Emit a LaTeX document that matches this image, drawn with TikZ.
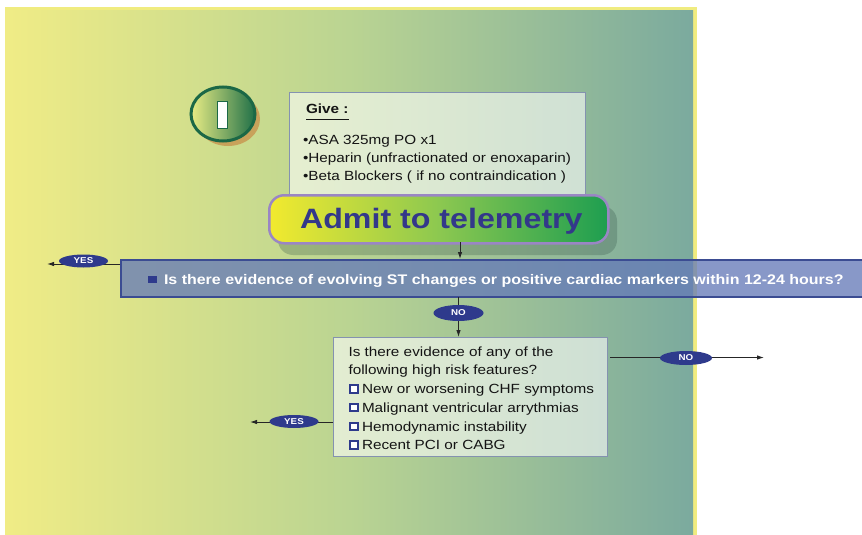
\documentclass[tikz,border=0pt]{standalone}
\usepackage{fontspec}
\setmainfont[FakeStretch=1.15]{Liberation Sans}
\usetikzlibrary{shapes.geometric,arrows.meta}
\definecolor{frameY}{RGB}{240,236,128}
\definecolor{bgL}{RGB}{240,236,134}
\definecolor{bgM}{RGB}{186,212,146}
\definecolor{bgR}{RGB}{123,170,158}
\definecolor{badgeB}{RGB}{27,104,70}
\definecolor{badgeL}{RGB}{232,236,132}
\definecolor{badgeR}{RGB}{32,112,72}
\definecolor{tanc}{RGB}{200,162,90}
\definecolor{boxB}{RGB}{132,146,176}
\definecolor{admL}{RGB}{242,234,46}
\definecolor{admM}{RGB}{140,200,80}
\definecolor{admR}{RGB}{30,158,80}
\definecolor{admB}{RGB}{154,134,196}
\definecolor{admT}{RGB}{51,56,138}
\definecolor{shadowc}{RGB}{50,80,70}
\definecolor{qblue}{RGB}{101,122,184}
\definecolor{qborder}{RGB}{59,76,146}
\definecolor{navy}{RGB}{46,58,140}
\definecolor{ink}{RGB}{20,20,20}
\begin{document}
\begin{tikzpicture}[x=1pt,y=-1pt,
  txt/.style={anchor=base west, inner sep=0pt, outer sep=0pt, text=ink},
  lbl/.style={ellipse, fill=navy, inner sep=0pt, text=white,
    font=\bfseries\fontsize{8.5}{8.5}\selectfont},
  arr/.style={-{Latex[length=7pt,width=4.5pt]}, line width=0.9pt, draw=black!85},
  lightbox/.style={draw=boxB, line width=1.2pt, fill=white, fill opacity=0.58,
    anchor=north west, inner sep=0pt},
  hollowsq/.style={draw=navy, line width=1.9pt, fill=white, inner sep=0pt,
    minimum width=8pt, minimum height=7.5pt, anchor=south west},
  gfont/.style={font=\fontsize{13.3}{16}\selectfont}
]
\clip (0,0) rectangle (862,535);
\fill[white] (0,0) rectangle (862,535);
\fill[frameY] (5,7) rectangle (697,535);
\shade[left color=bgL, right color=bgR, middle color=bgM] (5,11) rectangle (693,535);

% badge
\node (badgeSh) [ellipse, fill=tanc, minimum width=64, minimum height=54, inner sep=0pt] at (228,119) {};
\node (badge) [ellipse, draw=badgeB, line width=3pt, left color=badgeL, right color=badgeR,
  minimum width=64, minimum height=54, inner sep=0pt] at (223,114) {};
\node (badgeI) [draw=badgeB, line width=0.8pt, fill=white, minimum width=9.5, minimum height=27,
  inner sep=0pt] at (222.5,114.5) {};

% Give box
\node (give) [lightbox, minimum width=296, minimum height=110] at (289,92) {};
\node (giveT) [txt, font=\bfseries\fontsize{13.3}{16}\selectfont] at (306,113) {Give :};
\draw[line width=0.9pt, ink] ([yshift=-6pt]giveT.base west) -- ([yshift=-6pt]giveT.base east);
\node (g1) [txt, gfont] at (303,144) {•ASA 325mg PO x1};
\node (g2) [txt, gfont] at (303,162) {•Heparin (unfractionated or enoxaparin)};
\node (g3) [txt, gfont] at (303,180) {•Beta Blockers ( if no contraindication )};

% Admit box
\fill[shadowc, opacity=0.28, rounded corners=15pt] (278,206) rectangle (617,255);
\node (admit) [draw=admB, line width=2.5pt, rounded corners=15pt, left color=admL,
  right color=admR, middle color=admM, minimum width=339, minimum height=48,
  anchor=north west, inner sep=0pt] at (268,194) {};
\node (admitT) [txt, text=admT, font=\bfseries\fontsize{28}{28}\selectfont] at (300,228) {Admit to telemetry};

% Question box
\node (q) [fill=qblue, fill opacity=0.77, draw=qborder, draw opacity=1, line width=2pt,
  minimum width=760, minimum height=37, anchor=north west, inner sep=0pt] at (120,259) {};
\node (qsq) [fill=navy, minimum width=9, minimum height=7.5, inner sep=0pt] at (152,279.5) {};
\node (qT) [txt, text=white, font=\bfseries\fontsize{13.9}{16}\selectfont] at (164,284.3)
  {Is there evidence of evolving ST changes or positive cardiac markers within 12-24 hours?};

% second box
\node (b2) [lightbox, minimum width=274, minimum height=119] at (333,337) {};
\node (b2a) [txt, gfont] at (348.5,356) {Is there evidence of any of the};
\node (b2b) [txt, gfont] at (348.5,374.5) {following high risk features?};
\node (s1) [hollowsq] at (349,393.5) {};
\node (i1) [txt, gfont] at (362,393.5) {New or worsening CHF symptoms};
\node (s2) [hollowsq] at (349,412.2) {};
\node (i2) [txt, gfont] at (362,412.2) {Malignant ventricular arrythmias};
\node (s3) [hollowsq] at (349,431) {};
\node (i3) [txt, gfont] at (362,431) {Hemodynamic instability};
\node (s4) [hollowsq] at (349,449.7) {};
\node (i4) [txt, gfont] at (362,449.7) {Recent PCI or CABG};

% connectors
\coordinate (a1) at (460,242);
\draw[arr] (a1) -- (a1 |- q.north);
\coordinate (qy) at (120,264);
\coordinate (tipY1) at (47,264);
\draw[arr] (qy) -- (tipY1);
\coordinate (d1) at (458.5,297);
\draw[arr] (d1) -- (d1 |- b2.north);
\coordinate (r1) at (610,357.5);
\coordinate (tipN2) at (764,357.5);
\draw[arr] (r1) -- (tipN2);
\coordinate (l1) at (333,422);
\coordinate (tipY2) at (250,422);
\draw[arr] (l1) -- (tipY2);

% labels
\node (yes1) [lbl, minimum width=49, minimum height=13] at (83.5,261) {YES};
\node (no1) [lbl, minimum width=50, minimum height=16] at (458.5,313) {NO};
\node (no2) [lbl, minimum width=52, minimum height=14] at (686,358) {NO};
\node (yes2) [lbl, minimum width=49, minimum height=13] at (294,421.5) {YES};
\end{tikzpicture}
\end{document}
